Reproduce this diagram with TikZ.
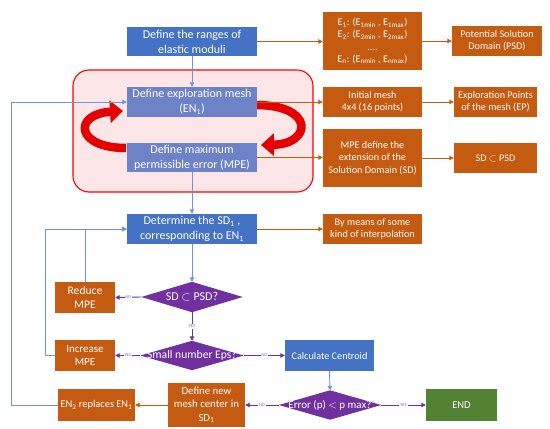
\documentclass[tikz,border=0pt]{standalone}
\usepackage{fontspec}
\setmainfont{Carlito}
\usetikzlibrary{arrows.meta,backgrounds}
\definecolor{cblue}{HTML}{4472C4}
\definecolor{cmesh}{HTML}{6E82C8}
\definecolor{corange}{HTML}{C55A11}
\definecolor{cpurple}{HTML}{7030A0}
\definecolor{cgreen}{HTML}{548235}
\definecolor{cpink}{HTML}{FCE6E8}
\definecolor{cline}{HTML}{6F93D8}
\begin{document}
\begin{tikzpicture}[x=1pt,y=-1pt,
  box/.style={rectangle, inner sep=1pt, align=center, text=white, font=\fontsize{12}{15}\selectfont},
  bluebox/.style={box, fill=cblue},
  meshbox/.style={box, fill=cmesh},
  obox/.style={box, fill=corange, font=\fontsize{10.2}{12.2}\selectfont},
  gbox/.style={box, fill=cgreen, font=\fontsize{10.5}{12}\selectfont},
  dia/.style={rectangle, inner sep=0pt, align=center, text=white, font=\fontsize{11.6}{12}\selectfont},
  tip/.style={-{Triangle[width=4.5pt,length=4.5pt]}},
  oline/.style={draw=corange, line width=0.9pt, tip},
  bline/.style={draw=cline, line width=0.9pt, tip},
  pline/.style={draw=cpurple, line width=0.9pt, tip},
  lab/.style={fill=white, inner sep=0.8pt, font=\fontsize{4.5}{5}\selectfont, text=cpurple!75},
  redarrow/.style={draw=red!90!black, line width=8.5pt, -{Triangle[width=22pt,length=13pt]}}
]
\useasboundingbox (0,0) rectangle (550,429);
% group frame
\draw[draw=red, fill=cpink, line width=1.1pt, rounded corners=16pt] (73,70) rectangle (313,192);

% red cycle arrows
\draw[redarrow] (126,148) .. controls (75,148) and (73,114) .. (123,111);
\draw[redarrow] (256,105) .. controls (315,105) and (312,144) .. (261,145);

% boxes
\node[bluebox, minimum width=130pt, minimum height=29pt] (ranges) at (192,41.5) {Define the ranges of\\elastic moduli};
\node[obox, minimum width=99pt, minimum height=58pt] (E) at (372.5,41) {E\textsubscript{1}: (E\textsubscript{1min} , E\textsubscript{1max})\\E\textsubscript{2}: (E\textsubscript{2min} , E\textsubscript{2max})\\....\\E\textsubscript{n}: (E\textsubscript{nmin} , E\textsubscript{nmax})};
\node[obox, minimum width=90pt, minimum height=30pt] (PSD) at (497,41) {Potential Solution\\Domain (PSD)};

\node[meshbox, minimum width=130pt, minimum height=30pt] (mesh) at (192,102) {Define exploration mesh\\(EN\textsubscript{1})};
\node[meshbox, minimum width=130pt, minimum height=29pt] (MPE) at (192,157.5) {Define maximum\\permissible error (MPE)};
\node[obox, minimum width=99pt, minimum height=30pt] (init) at (372.5,102) {Initial mesh\\4x4 (16 points)};
\node[obox, minimum width=83pt, minimum height=30pt] (EP) at (495.5,102) {Exploration Points\\of the mesh (EP)};
\node[obox, minimum width=99pt, minimum height=58pt] (MPEdef) at (372.5,158) {MPE define the\\extension of the\\Solution Domain (SD)};
\node[obox, minimum width=83pt, minimum height=30pt] (SDbox) at (495.5,158) {SD $\subset$ PSD};

\node[bluebox, minimum width=130pt, minimum height=30pt] (det) at (192,229) {Determine the SD\textsubscript{1} ,\\corresponding to EN\textsubscript{1}};
\node[obox, minimum width=99pt, minimum height=30pt] (means) at (372.5,229) {By means of some\\kind of interpolation};

\node[dia, minimum width=101pt, minimum height=30pt, font=\fontsize{12}{12}\selectfont] (sd) at (192,297) {SD $\subset$ PSD?};
\node[obox, minimum width=60pt, minimum height=31pt, font=\fontsize{11.6}{13.5}\selectfont] (reduce) at (85,297.5) {Reduce\\MPE};
\node[obox, minimum width=60pt, minimum height=31pt, font=\fontsize{11}{13.5}\selectfont] (increase) at (85,355.5) {Increase\\MPE};
\node[dia, minimum width=103pt, minimum height=29pt] (eps) at (192,355.5) {Small number Eps?};
\node[bluebox, minimum width=89pt, minimum height=31pt, font=\fontsize{10.2}{12}\selectfont] (cent) at (329.5,355.5) {Calculate Centroid};
\node[dia, minimum width=102pt, minimum height=29pt, font=\fontsize{11}{12}\selectfont] (err) at (330,405) {Error (p) $<$ p max?};
\node[gbox, minimum width=71pt, minimum height=32pt] (end) at (461.5,405) {END};
\node[obox, minimum width=77pt, minimum height=44pt, font=\fontsize{10.8}{13.3}\selectfont] (newc) at (206.5,405) {Define new\\mesh center in\\SD\textsubscript{1}};
\node[obox, minimum width=77pt, minimum height=32pt, font=\fontsize{10.4}{12}\selectfont] (en2) at (96.5,405) {EN\textsubscript{2} replaces EN\textsubscript{1}};

\begin{pgfonlayer}{background}
\foreach \d in {sd,eps,err}
  \fill[cpurple] (\d.north) -- (\d.east) -- (\d.south) -- (\d.west) -- cycle;
\end{pgfonlayer}

% connectors
\draw[oline] (ranges.east) -- (ranges.east -| E.west);
\draw[oline] (E.east) -- (E.east -| PSD.west);
\draw[oline] (mesh.east) -- (init.west);
\draw[oline] (init.east) -- (EP.west);
\draw[oline] (MPE.east) -- (MPE.east -| MPEdef.west);
\draw[oline] (MPEdef.east) -- (SDbox.west);
\draw[oline] (det.east) -- (means.west);
\draw[oline] (newc.west) -- (en2.east);

\draw[bline] (ranges.south) -- (mesh.north);
\draw[bline] (MPE.south) -- (det.north);
\draw[bline] (det.south) -- (sd.north);
\draw[bline] (cent.south) -- (err.north);
\draw[bline] (en2.west) -- ++(-46,0) |- (mesh.west);
\draw[bline] (reduce.north) |- (det.west);
\draw[bline] (increase.west) -- ++(-9,0) |- (det.west);

\draw[pline] (sd.west) -- node[lab]{NO} (reduce.east);
\draw[pline] (sd.south) -- node[lab]{YES} (eps.north);
\draw[pline] (eps.west) -- node[lab]{YES} (increase.east);
\draw[pline] (eps.east) -- node[lab]{NO} (cent.west);
\draw[pline] (err.east) -- node[lab]{YES} (end.west);
\draw[pline] (err.west) -- node[lab]{NO} (newc.east);
\end{tikzpicture}
\end{document}
